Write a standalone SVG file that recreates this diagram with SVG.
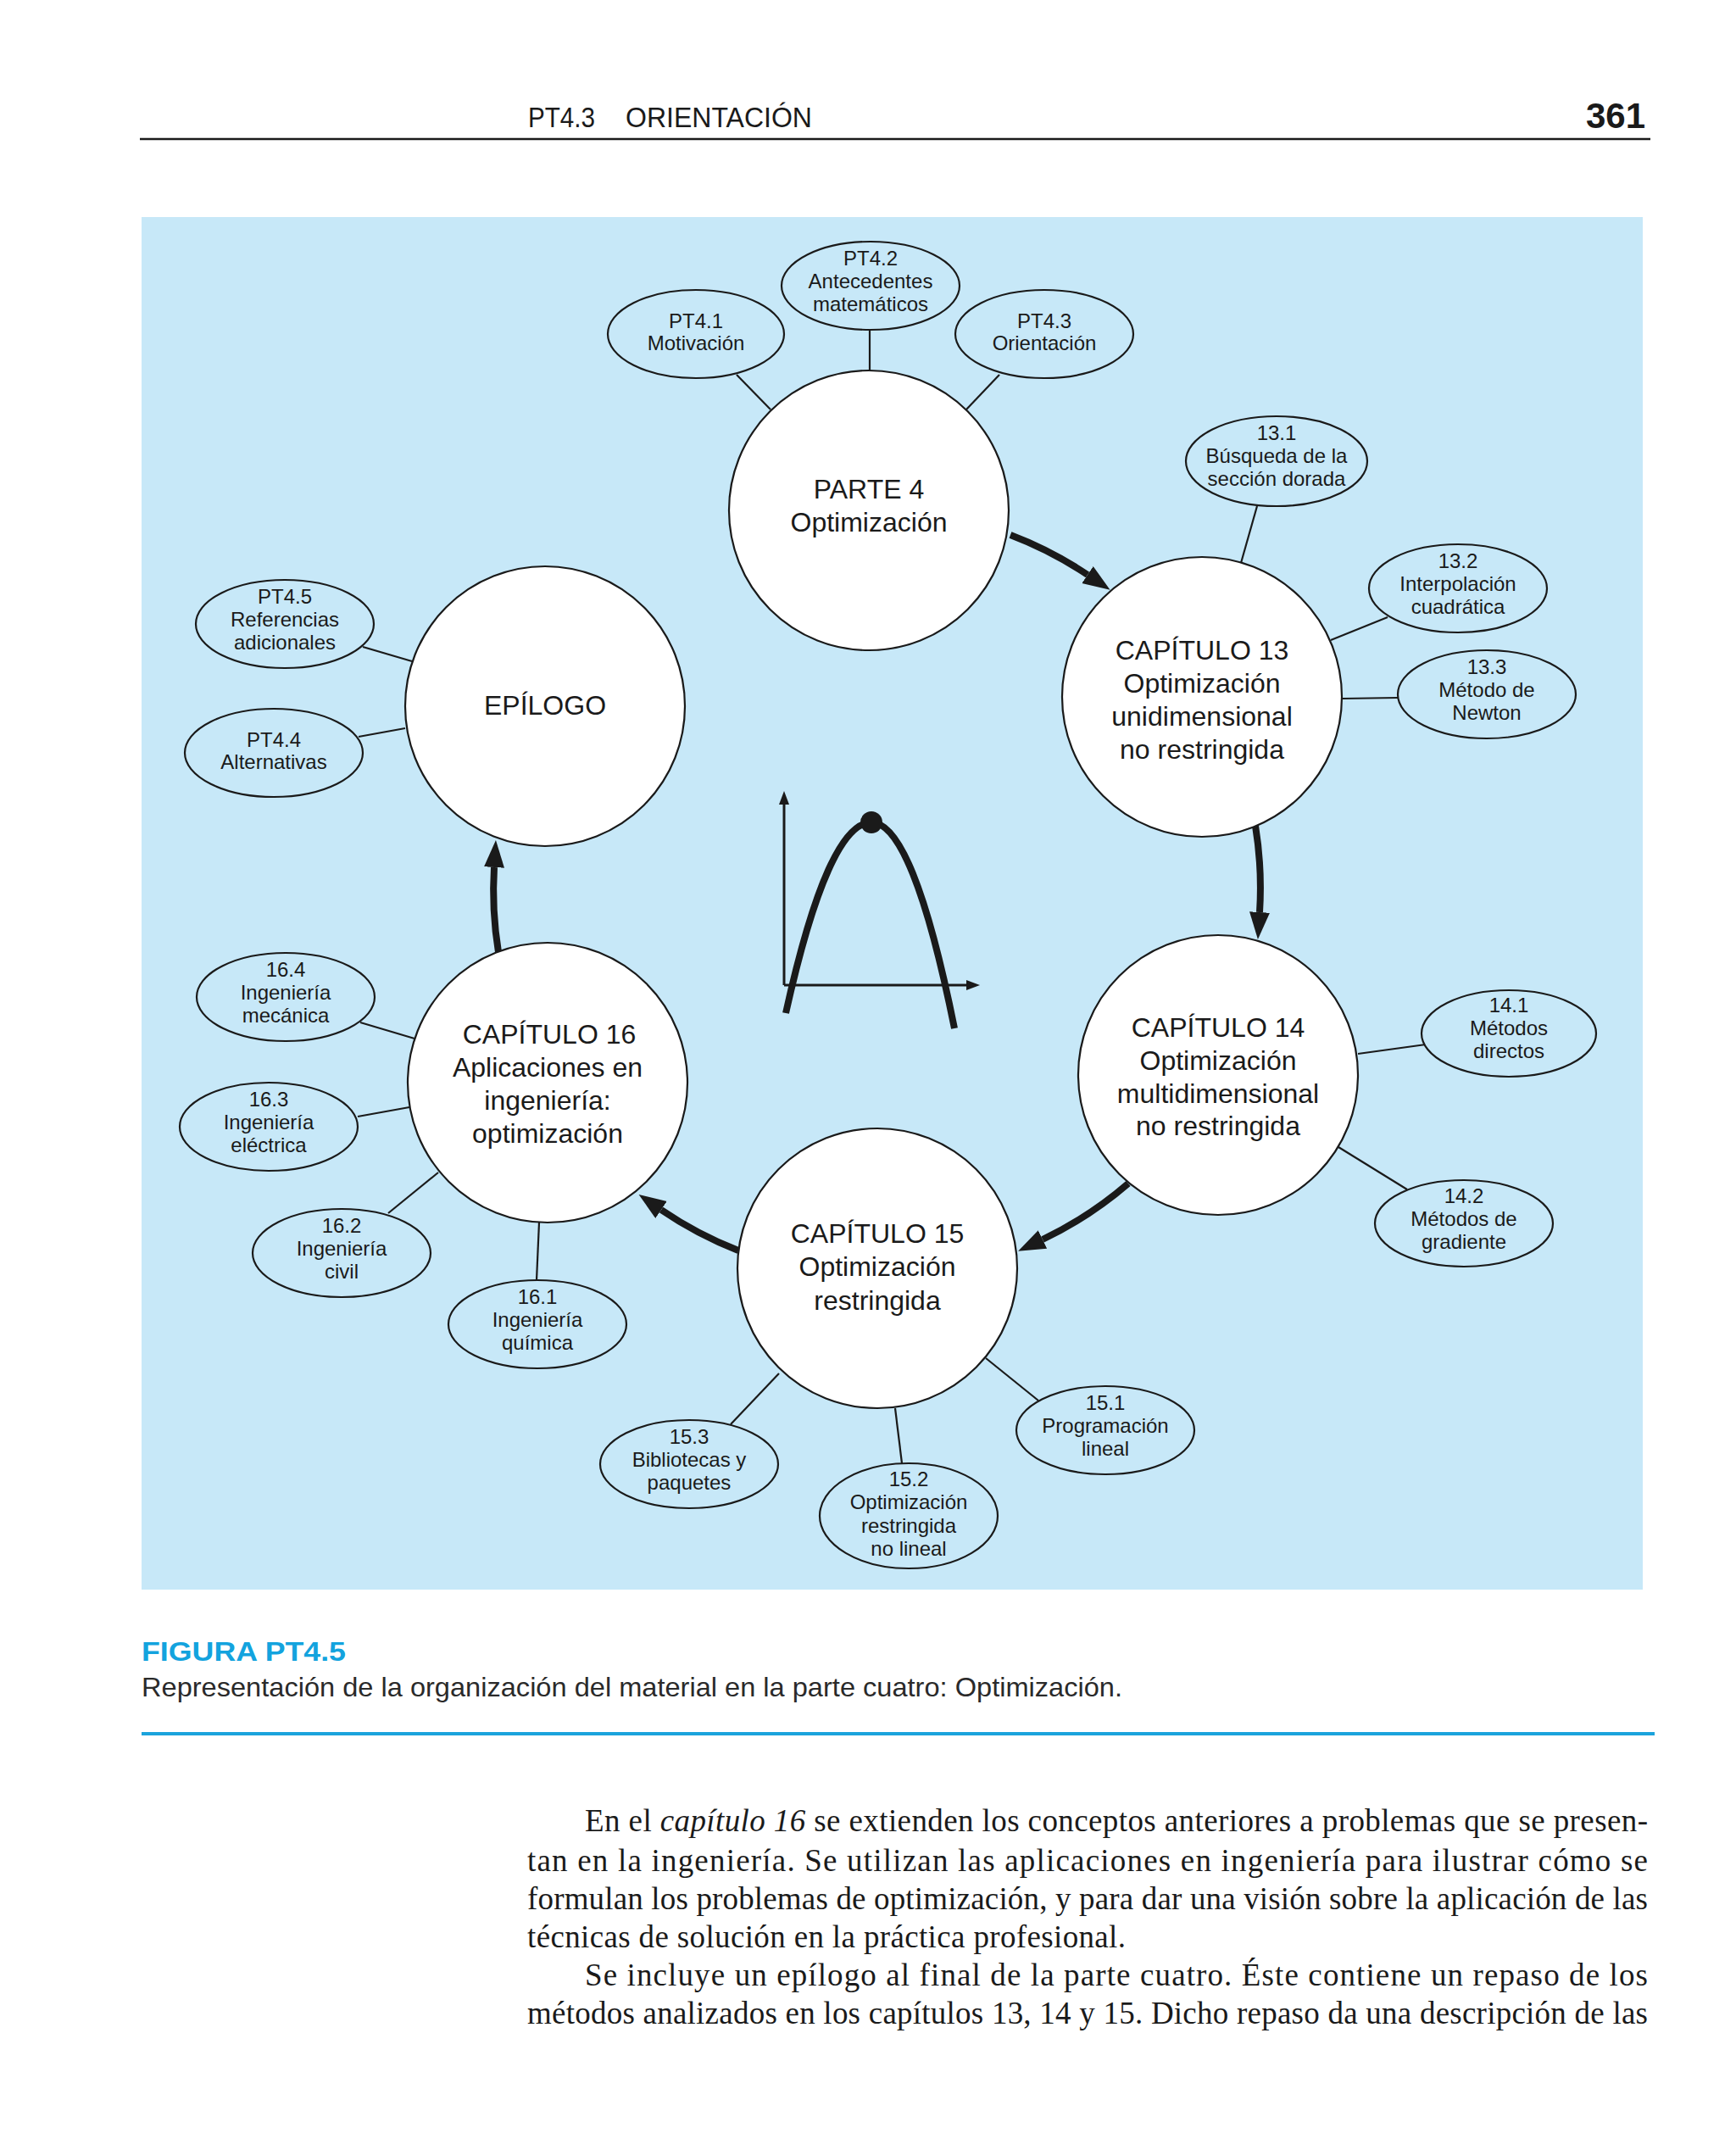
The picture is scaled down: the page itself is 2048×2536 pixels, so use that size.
<svg xmlns="http://www.w3.org/2000/svg" width="2048" height="2536" viewBox="0 0 2048 2536">
<defs>
<style>
.bg{fill:#c7e8f8}
.big{fill:#ffffff;stroke:#1a1a1a;stroke-width:2.2}
.sm{fill:#c7e8f8;stroke:#1a1a1a;stroke-width:2.2}
.ln{stroke:#1a1a1a;stroke-width:2.2;fill:none}
.arr{stroke:#1a1a1a;stroke-width:8;fill:none;marker-end:url(#ah)}
.tb{font-family:"Liberation Sans",Arial,sans-serif;font-size:32px;fill:#1a1a1a;text-anchor:middle}
.ts{font-family:"Liberation Sans",Arial,sans-serif;font-size:24px;fill:#1a1a1a;text-anchor:middle}
.body{font-family:"Liberation Serif","Times New Roman",serif;font-size:37px;fill:#1a1a1a}
</style>
<marker id="ah" markerUnits="userSpaceOnUse" markerWidth="40" markerHeight="30" refX="0" refY="12" orient="auto">
<path d="M0,0 L32,12 L0,24 z" fill="#1a1a1a"/>
</marker>
<marker id="sa" markerUnits="userSpaceOnUse" markerWidth="20" markerHeight="14" refX="0" refY="6" orient="auto">
<path d="M0,0 L16,6 L0,12 z" fill="#1a1a1a"/>
</marker>
</defs>
<rect x="0" y="0" width="2048" height="2536" fill="#ffffff"/>
<!-- header -->
<g id="header">
<text x="623" y="150" style="font-family:'Liberation Sans',Arial,sans-serif;font-size:33px;fill:#1a1a1a" textLength="79" lengthAdjust="spacingAndGlyphs">PT4.3</text>
<text x="738" y="150" style="font-family:'Liberation Sans',Arial,sans-serif;font-size:33px;fill:#1a1a1a" textLength="220" lengthAdjust="spacingAndGlyphs">ORIENTACIÓN</text>
<text x="1941" y="151" style="font-family:'Liberation Sans',Arial,sans-serif;font-size:42px;font-weight:bold;fill:#1a1a1a;text-anchor:end">361</text>
<line x1="165" y1="164" x2="1947" y2="164" stroke="#1a1a1a" stroke-width="2.5"/>
</g>
<rect class="bg" x="167" y="256" width="1771" height="1619"/>
<!-- connectors -->
<g id="connectors">
<line class="ln" x1="869" y1="442" x2="909" y2="483"/>
<line class="ln" x1="1026" y1="390" x2="1026" y2="437"/>
<line class="ln" x1="1179" y1="442" x2="1140" y2="483"/>
<line class="ln" x1="1483" y1="597" x2="1464" y2="664"/>
<line class="ln" x1="1637" y1="728" x2="1570" y2="755"/>
<line class="ln" x1="1584" y1="824" x2="1649" y2="823"/>
<line class="ln" x1="1602" y1="1243" x2="1682" y2="1232"/>
<line class="ln" x1="1579" y1="1353" x2="1660" y2="1403"/>
<line class="ln" x1="1163" y1="1602" x2="1225" y2="1652"/>
<line class="ln" x1="1056" y1="1661" x2="1064" y2="1726"/>
<line class="ln" x1="919" y1="1620" x2="862" y2="1680"/>
<line class="ln" x1="636" y1="1442" x2="633" y2="1510"/>
<line class="ln" x1="458" y1="1431" x2="517" y2="1383"/>
<line class="ln" x1="422" y1="1317" x2="483" y2="1306"/>
<line class="ln" x1="425" y1="1206" x2="489" y2="1225"/>
<line class="ln" x1="428" y1="763" x2="486" y2="780"/>
<line class="ln" x1="423" y1="869" x2="478" y2="859"/>
<path class="arr" d="M1192,631 A448 448 0 0 1 1283,678"/>
<path class="arr" d="M1481,974 A453 453 0 0 1 1486,1076"/>
<path class="arr" d="M1331,1396 A456 456 0 0 1 1230,1462"/>
<path class="arr" d="M871,1475 A455 455 0 0 1 780,1427"/>
<path class="arr" d="M588,1123 A452 452 0 0 1 583,1023"/>
</g>
<!-- big nodes -->
<g id="parte4"><circle class="big" cx="1025" cy="602" r="165"/>
<text class="tb" x="1025" y="588">PARTE 4</text><text class="tb" x="1025" y="627">Optimización</text></g>
<g id="cap13"><circle class="big" cx="1418" cy="822" r="165"/>
<text class="tb" x="1418" y="778">CAPÍTULO 13</text><text class="tb" x="1418" y="817">Optimización</text><text class="tb" x="1418" y="856">unidimensional</text><text class="tb" x="1418" y="895">no restringida</text></g>
<g id="cap14"><circle class="big" cx="1437" cy="1268" r="165"/>
<text class="tb" x="1437" y="1223">CAPÍTULO 14</text><text class="tb" x="1437" y="1262">Optimización</text><text class="tb" x="1437" y="1301">multidimensional</text><text class="tb" x="1437" y="1339">no restringida</text></g>
<g id="cap15"><circle class="big" cx="1035" cy="1496" r="165"/>
<text class="tb" x="1035" y="1466">CAPÍTULO 15</text><text class="tb" x="1035" y="1505">Optimización</text><text class="tb" x="1035" y="1545">restringida</text></g>
<g id="cap16"><circle class="big" cx="646" cy="1277" r="165"/>
<text class="tb" x="648" y="1231">CAPÍTULO 16</text><text class="tb" x="646" y="1270">Aplicaciones en</text><text class="tb" x="646" y="1309">ingeniería:</text><text class="tb" x="646" y="1348">optimización</text></g>
<g id="epilogo"><circle class="big" cx="643" cy="833" r="165"/>
<text class="tb" x="643" y="843">EPÍLOGO</text></g>
<!-- small nodes -->
<g id="pt41"><ellipse class="sm" cx="821" cy="394" rx="104" ry="52"/><text class="ts" x="821" y="387">PT4.1</text><text class="ts" x="821" y="413">Motivación</text></g>
<g id="pt42"><ellipse class="sm" cx="1027" cy="337" rx="105" ry="52"/><text class="ts" x="1027" y="313">PT4.2</text><text class="ts" x="1027" y="340">Antecedentes</text><text class="ts" x="1027" y="367">matemáticos</text></g>
<g id="pt43"><ellipse class="sm" cx="1232" cy="394" rx="105" ry="52"/><text class="ts" x="1232" y="387">PT4.3</text><text class="ts" x="1232" y="413">Orientación</text></g>
<g id="s131"><ellipse class="sm" cx="1506" cy="544" rx="107" ry="53"/><text class="ts" x="1506" y="519">13.1</text><text class="ts" x="1506" y="546">Búsqueda de la</text><text class="ts" x="1506" y="573">sección dorada</text></g>
<g id="s132"><ellipse class="sm" cx="1720" cy="694" rx="105" ry="52"/><text class="ts" x="1720" y="670">13.2</text><text class="ts" x="1720" y="697">Interpolación</text><text class="ts" x="1720" y="724">cuadrática</text></g>
<g id="s133"><ellipse class="sm" cx="1754" cy="819" rx="105" ry="52"/><text class="ts" x="1754" y="795">13.3</text><text class="ts" x="1754" y="822">Método de</text><text class="ts" x="1754" y="849">Newton</text></g>
<g id="s141"><ellipse class="sm" cx="1780" cy="1219" rx="103" ry="51"/><text class="ts" x="1780" y="1194">14.1</text><text class="ts" x="1780" y="1221">Métodos</text><text class="ts" x="1780" y="1248">directos</text></g>
<g id="s142"><ellipse class="sm" cx="1727" cy="1443" rx="105" ry="51"/><text class="ts" x="1727" y="1419">14.2</text><text class="ts" x="1727" y="1446">Métodos de</text><text class="ts" x="1727" y="1473">gradiente</text></g>
<g id="s151"><ellipse class="sm" cx="1304" cy="1687" rx="105" ry="52"/><text class="ts" x="1304" y="1663">15.1</text><text class="ts" x="1304" y="1690">Programación</text><text class="ts" x="1304" y="1717">lineal</text></g>
<g id="s152"><ellipse class="sm" cx="1072" cy="1788" rx="105" ry="62"/><text class="ts" x="1072" y="1753">15.2</text><text class="ts" x="1072" y="1780">Optimización</text><text class="ts" x="1072" y="1808">restringida</text><text class="ts" x="1072" y="1835">no lineal</text></g>
<g id="s153"><ellipse class="sm" cx="813" cy="1727" rx="105" ry="52"/><text class="ts" x="813" y="1703">15.3</text><text class="ts" x="813" y="1730">Bibliotecas y</text><text class="ts" x="813" y="1757">paquetes</text></g>
<g id="s161"><ellipse class="sm" cx="634" cy="1562" rx="105" ry="52"/><text class="ts" x="634" y="1538">16.1</text><text class="ts" x="634" y="1565">Ingeniería</text><text class="ts" x="634" y="1592">química</text></g>
<g id="s162"><ellipse class="sm" cx="403" cy="1478" rx="105" ry="52"/><text class="ts" x="403" y="1454">16.2</text><text class="ts" x="403" y="1481">Ingeniería</text><text class="ts" x="403" y="1508">civil</text></g>
<g id="s163"><ellipse class="sm" cx="317" cy="1329" rx="105" ry="52"/><text class="ts" x="317" y="1305">16.3</text><text class="ts" x="317" y="1332">Ingeniería</text><text class="ts" x="317" y="1359">eléctrica</text></g>
<g id="s164"><ellipse class="sm" cx="337" cy="1176" rx="105" ry="52"/><text class="ts" x="337" y="1152">16.4</text><text class="ts" x="337" y="1179">Ingeniería</text><text class="ts" x="337" y="1206">mecánica</text></g>
<g id="pt45"><ellipse class="sm" cx="336" cy="736" rx="105" ry="52"/><text class="ts" x="336" y="712">PT4.5</text><text class="ts" x="336" y="739">Referencias</text><text class="ts" x="336" y="766">adicionales</text></g>
<g id="pt44"><ellipse class="sm" cx="323" cy="888" rx="105" ry="52"/><text class="ts" x="323" y="881">PT4.4</text><text class="ts" x="323" y="907">Alternativas</text></g>
<!-- central graph -->
<g id="graph">
<line x1="925" y1="1162" x2="925" y2="949" stroke="#1a1a1a" stroke-width="3" marker-end="url(#sa)"/>
<line x1="925" y1="1162" x2="1140" y2="1162" stroke="#1a1a1a" stroke-width="3" marker-end="url(#sa)"/>
<path d="M927,1195 Q977,970 1028,970 Q1077,970 1126,1213" fill="none" stroke="#1a1a1a" stroke-width="8"/>
<circle cx="1028" cy="970" r="13" fill="#1a1a1a"/>
</g>
<!-- caption -->
<g id="caption">
<text x="167" y="1959" style="font-family:'Liberation Sans',Arial,sans-serif;font-size:32px;font-weight:bold;fill:#13a3de" textLength="241" lengthAdjust="spacingAndGlyphs">FIGURA PT4.5</text>
<text x="167" y="2001" style="font-family:'Liberation Sans',Arial,sans-serif;font-size:32px;fill:#2a2a2a" textLength="1157" lengthAdjust="spacingAndGlyphs">Representación de la organización del material en la parte cuatro: Optimización.</text>
<line x1="167" y1="2045" x2="1952" y2="2045" stroke="#1aa3dc" stroke-width="4"/>
</g>
<!-- body text -->
<g id="body">
<text class="body" x="690" y="2160" textLength="1254" lengthAdjust="spacing">En el <tspan font-style="italic">capítulo 16</tspan> se extienden los conceptos anteriores a problemas que se presen-</text>
<text class="body" x="622" y="2207" textLength="1322" lengthAdjust="spacing">tan en la ingeniería. Se utilizan las aplicaciones en ingeniería para ilustrar cómo se</text>
<text class="body" x="622" y="2252" textLength="1322" lengthAdjust="spacing">formulan los problemas de optimización, y para dar una visión sobre la aplicación de las</text>
<text class="body" x="622" y="2297" textLength="706" lengthAdjust="spacing">técnicas de solución en la práctica profesional.</text>
<text class="body" x="690" y="2342" textLength="1254" lengthAdjust="spacing">Se incluye un epílogo al final de la parte cuatro. Éste contiene un repaso de los</text>
<text class="body" x="622" y="2387" textLength="1322" lengthAdjust="spacing">métodos analizados en los capítulos 13, 14 y 15. Dicho repaso da una descripción de las</text>
</g>
</svg>
